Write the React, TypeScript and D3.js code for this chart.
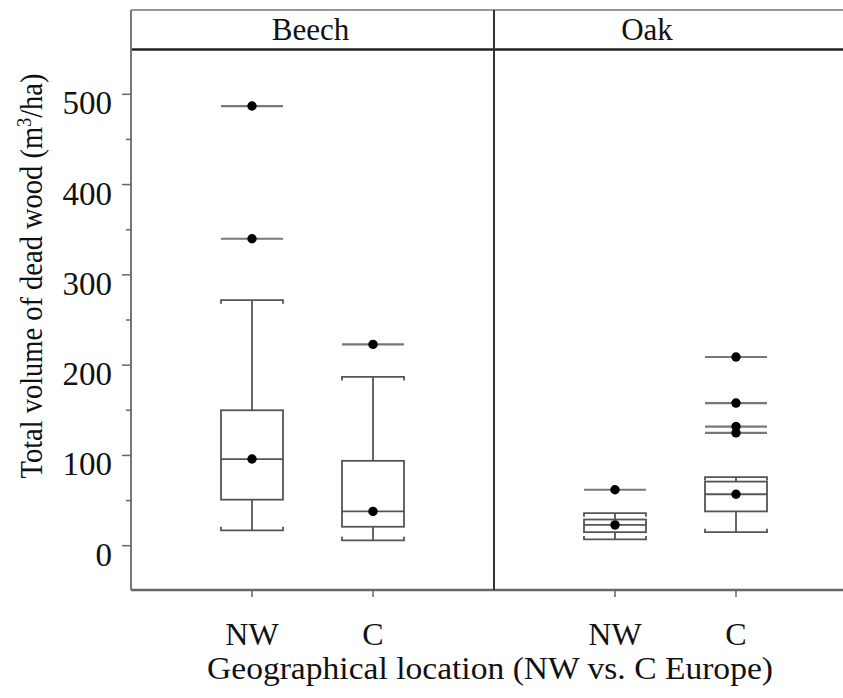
import * as d3 from 'd3';

const panels = ['Beech', 'Oak'];
const locations = ['NW', 'C'];

// one entry per box: Beech NW, Beech C, Oak NW, Oak C
const groupPanel = ['Beech', 'Beech', 'Oak', 'Oak'];
const groupLocation = ['NW', 'C', 'NW', 'C'];
const lowerWhisker = [17, 6, 7, 15];
const lowerQuartile = [51, 21, 15, 38];
const medians = [96, 38, 23, 57];
const upperQuartile = [150, 94, 29, 71];
const upperWhisker = [272, 187, 36, 76];
const outliers = [[340, 487], [223], [62], [125, 132, 158, 209]];

const yTicks = [0, 100, 200, 300, 400, 500];
const yMinorTicks = [50, 150, 250, 350, 450];

const width = 843;
const height = 698;
const font = "'Liberation Serif', 'Times New Roman', serif";

function App() {
    const plotLeft = 131;
    const panelWidth = 363;
    const stripTop = 10;
    const stripBottom = 49.5;
    const plotBottom = 590;
    const boxWidth = 62;
    const capEnd = 3.5;

    const y = d3.scaleLinear([0, 500], [545.7, 94.3]);
    const panelX = d3.scaleBand(panels, [plotLeft, plotLeft + panelWidth * panels.length]);
    const xFor = (panel) =>
        d3.scalePoint(locations, [panelX(panel), panelX(panel) + panelX.bandwidth()]).padding(1);

    // strip label centres (Oak label sits left of its panel centre in the original)
    const stripLabelX = { Beech: panelX('Beech') + panelX.bandwidth() / 2 - 2, Oak: panelX('Oak') + 153 };

    const stroke = '#555';

    return (
        <svg width={width} height={height} style={{ position: 'absolute', left: 0, top: 0, background: '#fff' }}>
            {/* frame */}
            <line x1={plotLeft} x2={width + 20} y1={stripTop} y2={stripTop} stroke="#999" strokeWidth={2} />
            <line x1={plotLeft} x2={width + 20} y1={stripBottom} y2={stripBottom} stroke="#222" strokeWidth={2.5} />
            <line x1={plotLeft} x2={width + 20} y1={plotBottom} y2={plotBottom} stroke="#666" strokeWidth={2.5} />
            <line x1={plotLeft} x2={plotLeft} y1={stripTop} y2={plotBottom} stroke="#777" strokeWidth={2} />
            <line x1={panelX('Oak')} x2={panelX('Oak')} y1={stripTop} y2={plotBottom} stroke="#333" strokeWidth={2} />

            {panels.map((p) => (
                <text key={p} x={stripLabelX[p]} y={39.5} textAnchor="middle" fontFamily={font} fontSize={31} fill="#111">
                    {p}
                </text>
            ))}

            {/* y axis */}
            {yTicks.map((t) => (
                <g key={t}>
                    <line x1={plotLeft - 9} x2={plotLeft} y1={y(t)} y2={y(t)} stroke="#666" strokeWidth={1.5} />
                    <text x={plotLeft - 19} y={y(t) + 20} textAnchor="end" fontFamily={font} fontSize={33} fill="#111">
                        {t}
                    </text>
                </g>
            ))}
            {yMinorTicks.map((t) => (
                <line key={t} x1={plotLeft - 5} x2={plotLeft} y1={y(t)} y2={y(t)} stroke="#666" strokeWidth={1.5} />
            ))}
            <text
                transform="translate(42,276) rotate(-90)"
                textAnchor="middle"
                fontFamily={font}
                fontSize={31}
                fill="#111"
                textLength={405}
                lengthAdjust="spacingAndGlyphs"
            >
                Total volume of dead wood (m
                <tspan fontSize={20} dy={-11}>3</tspan>
                <tspan dy={11}>/ha)</tspan>
            </text>

            {/* x axes */}
            {panels.map((p) => {
                const x = xFor(p);
                return locations.map((l) => (
                    <g key={p + l}>
                        <line x1={x(l)} x2={x(l)} y1={plotBottom} y2={plotBottom + 7} stroke="#666" strokeWidth={1.5} />
                        <text x={x(l)} y={644.5} textAnchor="middle" fontFamily={font} fontSize={32} fill="#111">
                            {l}
                        </text>
                    </g>
                ));
            })}
            <text
                x={490}
                y={679}
                textAnchor="middle"
                fontFamily={font}
                fontSize={32}
                fill="#111"
                textLength={566}
                lengthAdjust="spacingAndGlyphs"
            >
                Geographical location (NW vs. C Europe)
            </text>

            {/* boxes */}
            {groupPanel.map((p, i) => {
                const cx = xFor(p)(groupLocation[i]);
                const x0 = cx - boxWidth / 2;
                const x1 = cx + boxWidth / 2;
                return (
                    <g key={i} fill="none" stroke={stroke} strokeWidth={1.8}>
                        <line x1={cx} x2={cx} y1={y(upperWhisker[i])} y2={y(upperQuartile[i])} />
                        <line x1={cx} x2={cx} y1={y(lowerQuartile[i])} y2={y(lowerWhisker[i])} />
                        <path d={`M${x0},${y(upperWhisker[i]) + capEnd}V${y(upperWhisker[i])}H${x1}V${y(upperWhisker[i]) + capEnd}`} />
                        <path d={`M${x0},${y(lowerWhisker[i]) - capEnd}V${y(lowerWhisker[i])}H${x1}V${y(lowerWhisker[i]) - capEnd}`} />
                        <rect x={x0} y={y(upperQuartile[i])} width={boxWidth} height={y(lowerQuartile[i]) - y(upperQuartile[i])} />
                        <line x1={x0} x2={x1} y1={y(medians[i])} y2={y(medians[i])} />
                        <circle cx={cx} cy={y(medians[i])} r={4.7} fill="#000" stroke="none" />
                        {outliers[i].map((o) => (
                            <g key={o}>
                                <line x1={x0} x2={x1} y1={y(o)} y2={y(o)} stroke="#777" strokeWidth={2.2} />
                                <circle cx={cx} cy={y(o)} r={4.7} fill="#000" stroke="none" />
                            </g>
                        ))}
                    </g>
                );
            })}
        </svg>
    );
}

export default App;
